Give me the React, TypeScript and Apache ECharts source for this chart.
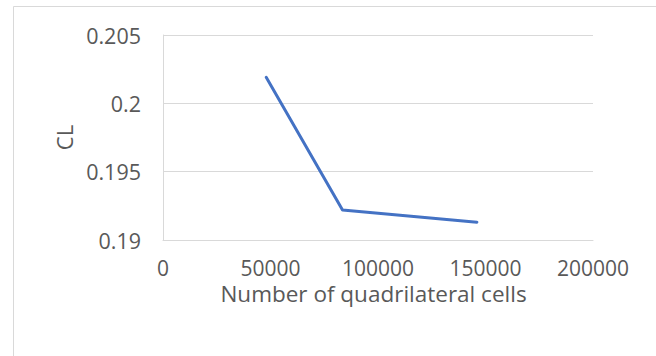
import React, { useEffect, useRef } from "react";
import * as echarts from "echarts";

// Mesh size (number of quadrilateral cells) against lift coefficient
const cellCounts = [48000, 83500, 146000];
const liftCoefficients = [0.2019, 0.1922, 0.1913];

const xTicks = { min: 0, max: 200000, interval: 50000 };
const yTicks = { min: 0.19, max: 0.205, interval: 0.005 };

const xTitle = "Number of quadrilateral cells";
const yTitle = "CL";

const FONT = "'Open Sans', sans-serif";
const TEXT = "#595959";
const GRID = "#d9d9d9";

export default function App() {
  const ref = useRef<HTMLDivElement>(null);

  useEffect(() => {
    if (!ref.current) return;
    const chart = echarts.init(ref.current, undefined, { renderer: "svg" });
    chart.setOption({
      animation: false,
      backgroundColor: "#ffffff",
      grid: { left: 163, right: 63, top: 35, bottom: 116, containLabel: false },
      graphic: [
        {
          type: "rect",
          shape: { x: 13.5, y: 6.5, width: 700, height: 400 },
          style: { fill: "none", stroke: GRID, lineWidth: 1 },
          silent: true,
        },
      ],
      xAxis: {
        type: "value",
        min: xTicks.min,
        max: xTicks.max,
        interval: xTicks.interval,
        name: xTitle,
        nameLocation: "middle",
        nameGap: 42,
        nameMoveOverlap: false,
        nameTextStyle: {
          fontFamily: FONT,
          fontSize: 22.5,
          lineHeight: 22,
          color: TEXT,
          padding: [0, 9, 0, 0],
        },
        axisLine: { show: true, lineStyle: { color: GRID, width: 1 } },
        axisTick: { show: false },
        splitLine: { show: false },
        axisLabel: {
          margin: 19,
          fontFamily: FONT,
          fontSize: 21,
          lineHeight: 17,
          color: TEXT,
          formatter: (v: number) => String(v),
        },
      },
      yAxis: {
        type: "value",
        min: yTicks.min,
        max: yTicks.max,
        interval: yTicks.interval,
        name: yTitle,
        nameLocation: "middle",
        nameGap: 88,
        nameMoveOverlap: false,
        nameTextStyle: { fontFamily: FONT, fontSize: 22, color: TEXT },
        axisLine: { show: true, lineStyle: { color: GRID, width: 1 } },
        axisTick: { show: false },
        splitLine: { show: true, lineStyle: { color: GRID, width: 1 } },
        axisLabel: {
          margin: 22,
          fontFamily: FONT,
          fontSize: 21.5,
          color: TEXT,
          formatter: (v: number) => String(+v.toFixed(3)),
        },
      },
      series: [
        {
          type: "line",
          data: cellCounts.map((c, i) => [c, liftCoefficients[i]]),
          showSymbol: false,
          symbol: "none",
          lineStyle: { color: "#4472C4", width: 3, cap: "round", join: "round" },
        },
      ],
    });
    return () => chart.dispose();
  }, []);

  return (
    <div
      ref={ref}
      style={{ position: "fixed", left: 0, top: 0, width: 656, height: 356 }}
    />
  );
}
